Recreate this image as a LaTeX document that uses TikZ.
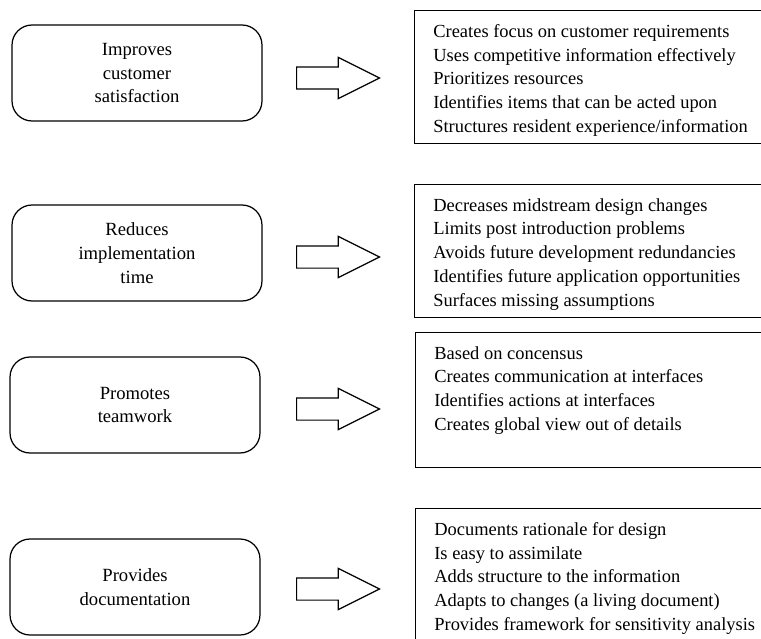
\documentclass[tikz,border=0pt]{standalone}
\usepackage{fontspec}
\setmainfont{Liberation Serif}
\usetikzlibrary{shapes.arrows}

\begin{document}
\begin{tikzpicture}[x=0.02cm, y=-0.02cm]
  \useasboundingbox (0, 0) rectangle (761, 639);

  % Stile.
  \tikzstyle{benefit}=[draw, line width=0.7pt, rounded corners=0.4cm, minimum width=5cm,
    minimum height=1.92cm, align=center, font=\fontsize{10.6}{13.5}\selectfont]
  \tikzstyle{frame}=[draw, line width=0.7pt, anchor=north west, minimum width=7.6cm, inner sep=0pt]
  \tikzstyle{items}=[anchor=north west, align=left, inner sep=0pt, font=\fontsize{10.5}{13.5}\selectfont]
  \tikzstyle{gives}=[single arrow, draw, line width=0.7pt, anchor=west, inner xsep=0pt, inner ysep=0.21cm,
    single arrow head extend=0.19cm, single arrow tip angle=53, minimum height=1.66cm]

  % Linke Kaesten.
  \node[benefit] (satisfaction) at (137, 73) {Improves\\customer\\satisfaction};
  \node[benefit] (time) at (137, 253) {Reduces\\implementation\\time};
  \node[benefit] (teamwork) at (135, 405) {Promotes\\teamwork};
  \node[benefit] (documentation) at (135, 587) {Provides\\documentation};

  % Pfeile.
  \node[gives] (arrow1) at (296, 78) {};
  \node[gives] (arrow2) at (296, 257) {};
  \node[gives] (arrow3) at (296, 409) {};
  \node[gives] (arrow4) at (296, 589) {};

  % Rechte Kaesten.
  \node[frame, minimum height=2.66cm] (list1) at (414, 10) {};
  \node[frame, minimum height=2.66cm] (list2) at (414, 184) {};
  \node[frame, minimum height=2.7cm] (list3) at (415, 332) {};
  \node[frame, minimum height=2.8cm] (list4) at (415, 508) {};

  \node[items] (text1) at (433, 24) {Creates focus on customer requirements\\
    Uses competitive information effectively\\Prioritizes resources\\
    Identifies items that can be acted upon\\Structures resident experience/information};
  \node[items] (text2) at (433, 198) {Decreases midstream design changes\\
    Limits post introduction problems\\Avoids future development redundancies\\
    Identifies future application opportunities\\Surfaces missing assumptions};
  \node[items] (text3) at (434, 346) {Based on concensus\\
    Creates communication at interfaces\\Identifies actions at interfaces\\
    Creates global view out of details};
  \node[items] (text4) at (434, 522) {Documents rationale for design\\
    Is easy to assimilate\\Adds structure to the information\\
    Adapts to changes (a living document)\\Provides framework for sensitivity analysis};
\end{tikzpicture}
\end{document}
